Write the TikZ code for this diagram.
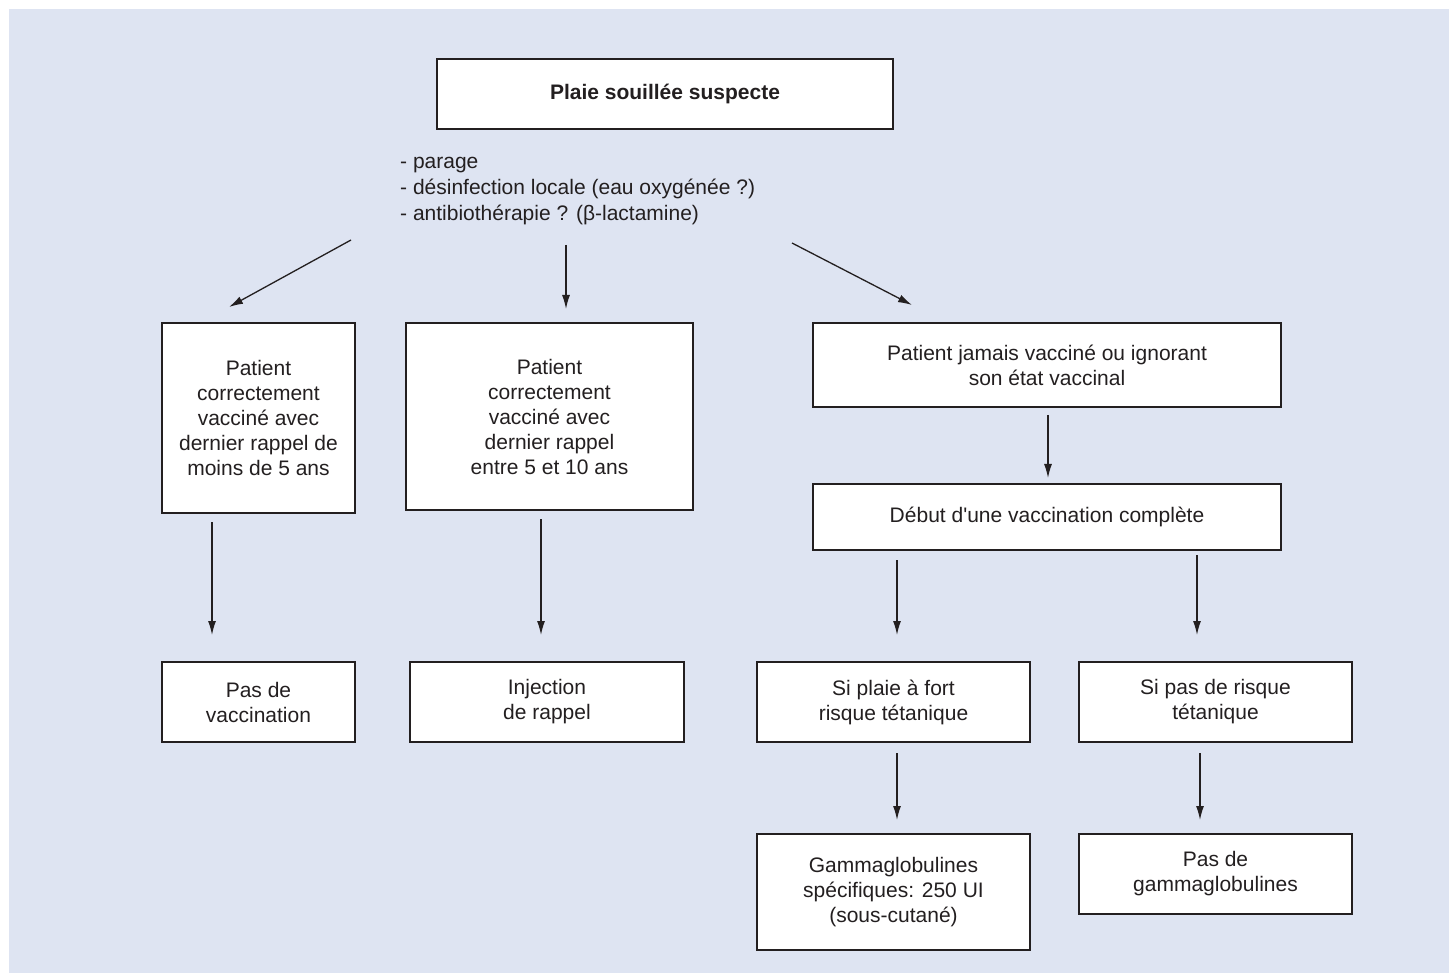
\documentclass[tikz,border=0pt]{standalone}
\usepackage{fontspec}
\setmainfont{Liberation Sans}[Ligatures=TeXOff]
\usetikzlibrary{arrows.meta}
\definecolor{bg}{RGB}{222,228,242}
\definecolor{ink}{RGB}{35,31,32}
\begin{document}
\begin{tikzpicture}[x=1pt,y=-1pt,
  box/.style={draw=ink,line width=1.5pt,fill=white,rectangle,inner sep=0pt,align=center,text=ink,font=\fontsize{21}{25}\selectfont},
  arr/.style={draw=ink,line width=1.3pt,-{Latex[length=14pt,width=8pt]}}]
\useasboundingbox (0,0) rectangle (1449,973);
\fill[bg] (9,9) rectangle (1449,973);

% boxes
\node[box,minimum width=456pt,minimum height=70pt,font=\bfseries\fontsize{21}{25}\selectfont] (top) at (665,94) {Plaie souillée suspecte};
\node[text=ink,align=left,inner sep=0pt,anchor=north west,font=\fontsize{21}{26}\selectfont] (care) at (400,149.8)
  {\strut- parage\\\strut- désinfection locale (eau oxygénée ?)\\\strut- antibiothérapie ? (β-lactamine)};

\node[box,minimum width=193pt,minimum height=190pt] (A) at (258.5,418) {Patient\\correctement\\vacciné avec\\dernier rappel de\\moins de 5 ans};
\node[box,minimum width=287pt,minimum height=187pt] (B) at (549.5,416.5) {Patient\\correctement\\vacciné avec\\dernier rappel\\entre 5 et 10 ans};
\node[box,minimum width=468pt,minimum height=84pt] (C) at (1047,365) {Patient jamais vacciné ou ignorant\\son état vaccinal};
\node[box,minimum width=468pt,minimum height=66pt] (D) at (1047,517) {Début d'une vaccination complète};
\node[box,minimum width=193pt,minimum height=80pt] (E) at (258.5,702) {Pas de\\vaccination};
\node[box,minimum width=274pt,minimum height=80pt] (F) at (547,702) {Injection\\de rappel};
\node[box,minimum width=273pt,minimum height=80pt] (G) at (893.5,702) {Si plaie à fort\\risque tétanique};
\node[box,minimum width=273pt,minimum height=80pt] (H) at (1215.5,702) {Si pas de risque\\tétanique};
\node[box,minimum width=273pt,minimum height=116pt] (I) at (893.5,892) {Gammaglobulines\\spécifiques: 250 UI\\(sous-cutané)};
\node[box,minimum width=273pt,minimum height=80pt] (J) at (1215.5,874) {Pas de\\gammaglobulines};

% connector ends
\coordinate (tA) at (351,240);  \coordinate (hA) at (229,307);
\coordinate (tB) at (566,245);  \coordinate (hB) at (566,309);
\coordinate (tC) at (792,243);  \coordinate (hC) at (912,305);
\coordinate (tAE) at (212,522); \coordinate (hAE) at (212,635);
\coordinate (tBF) at (541,519); \coordinate (hBF) at (541,635);
\coordinate (tCD) at (1048,415); \coordinate (hCD) at (1048,478);
\coordinate (tDG) at (897,560); \coordinate (hDG) at (897,635);
\coordinate (tDH) at (1197,555); \coordinate (hDH) at (1197,635);
\coordinate (tGI) at (897,753); \coordinate (hGI) at (897,820);
\coordinate (tHJ) at (1200,753); \coordinate (hHJ) at (1200,820);

\draw[arr] (tA) -- (hA);
\draw[arr] (tB) -- (hB);
\draw[arr] (tC) -- (hC);
\draw[arr] (tAE) -- (hAE);
\draw[arr] (tBF) -- (hBF);
\draw[arr] (tCD) -- (hCD);
\draw[arr] (tDG) -- (hDG);
\draw[arr] (tDH) -- (hDH);
\draw[arr] (tGI) -- (hGI);
\draw[arr] (tHJ) -- (hHJ);
\end{tikzpicture}
\end{document}
